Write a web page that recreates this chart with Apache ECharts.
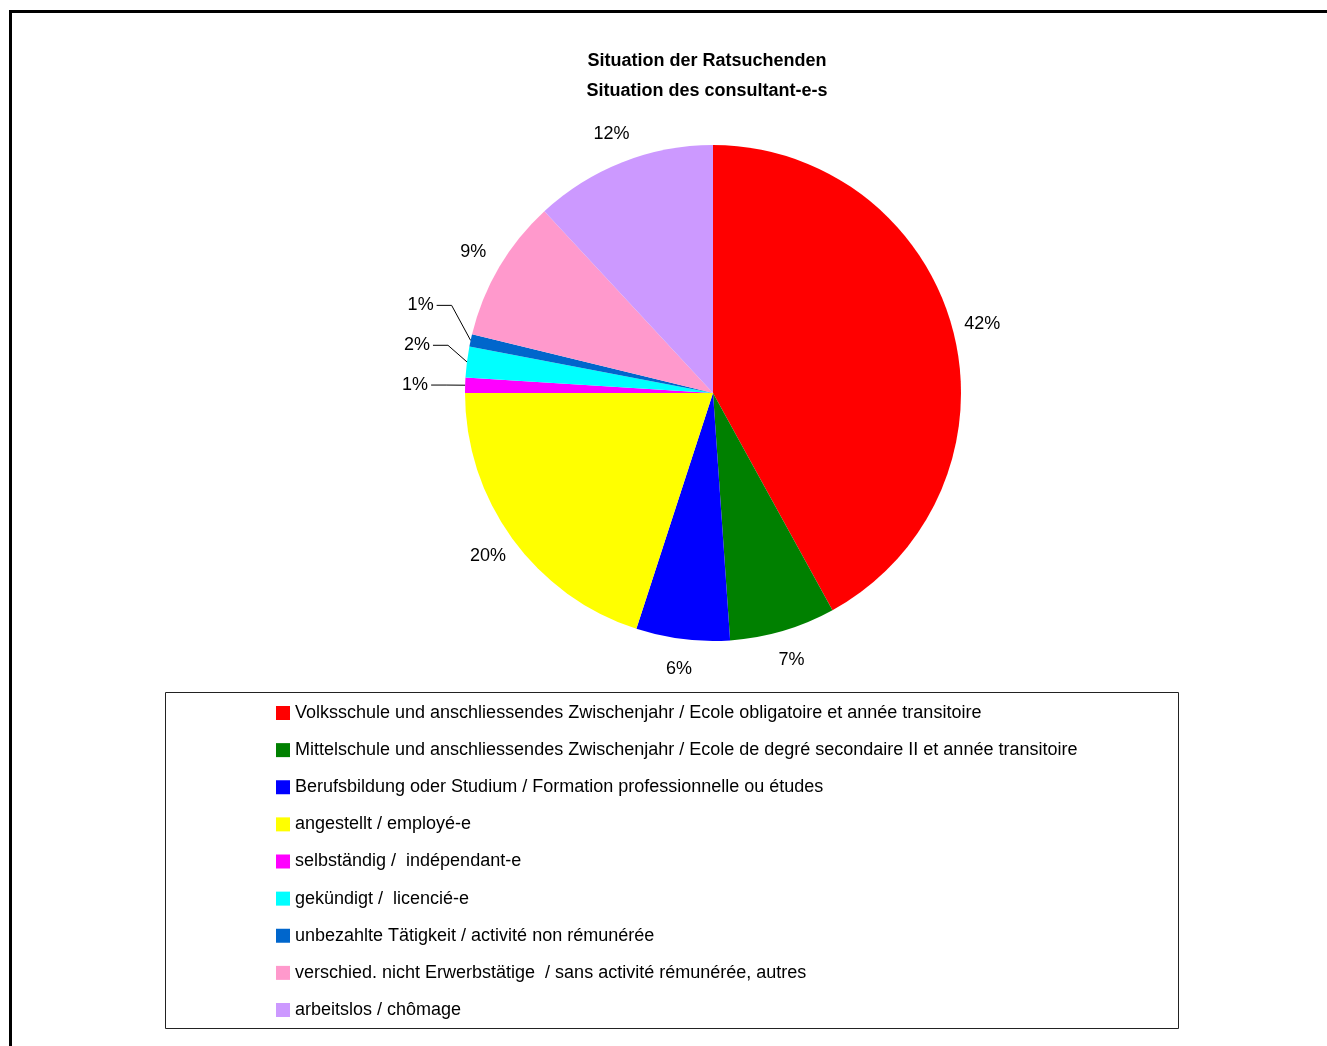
<!DOCTYPE html>
<html>
<head>
<meta charset="utf-8">
<script src="https://cdn.jsdelivr.net/npm/echarts@6/dist/echarts.min.js"></script>
<style>
html,body{margin:0;padding:0;background:#fff;}
#chart{width:1327px;height:1046px;}
</style>
</head>
<body>
<div id="chart"></div>
<script>
const titleLines = ['Situation der Ratsuchenden', 'Situation des consultant-e-s'];
const categories = [
  'Volksschule und anschliessendes Zwischenjahr / Ecole obligatoire et année transitoire',
  'Mittelschule und anschliessendes Zwischenjahr / Ecole de degré secondaire II et année transitoire',
  'Berufsbildung oder Studium / Formation professionnelle ou études',
  'angestellt / employé-e',
  'selbständig /  indépendant-e',
  'gekündigt /  licencié-e',
  'unbezahlte Tätigkeit / activité non rémunérée',
  'verschied. nicht Erwerbstätige  / sans activité rémunérée, autres',
  'arbeitslos / chômage'
];
const values = [42.0, 6.9, 6.1, 20.0, 1.0, 2.0, 0.8, 9.3, 11.9];
const colors = ['#FF0000', '#008000', '#0000FF', '#FFFF00', '#FF00FF', '#00FFFF', '#0066CC', '#FF99CC', '#CC99FF'];
// small slices whose labels sit outside with leader lines (vertical shift of label, px)
const smallLabelShift = {4: 0, 5: -16, 6: -34};

const FONT = "'Liberation Sans Narrow', 'Arial Narrow', 'Liberation Sans', Arial, sans-serif";
const chart = echarts.init(document.getElementById('chart'), null, {renderer: 'canvas'});

const pctFormatter = p => Math.round(p.percent) + '%';

const mainData = categories.map((name, i) => ({
  name: name,
  value: values[i],
  itemStyle: {color: colors[i]},
  label: {show: smallLabelShift[i] !== undefined},
  labelLine: {show: smallLabelShift[i] !== undefined}
}));
const ghostData = categories.map((name, i) => ({
  name: name,
  value: values[i],
  label: {show: smallLabelShift[i] === undefined}
}));

const option = {
  animation: false,
  backgroundColor: '#fff',
  title: {
    text: titleLines.join('\n'),
    left: 707,
    top: 46,
    textAlign: 'center',
    padding: 0,
    textStyle: {fontFamily: FONT, fontSize: 18, fontWeight: 'bold', lineHeight: 30, color: '#000'}
  },
  legend: {
    orient: 'vertical',
    left: 276,
    top: 703,
    padding: 0,
    itemGap: 17.125,
    itemWidth: 14,
    itemHeight: 14,
    icon: 'rect',
    selectedMode: false,
    data: categories.map((n, i) => ({name: n, itemStyle: {color: colors[i]}})),
    textStyle: {fontFamily: FONT, fontSize: 18, lineHeight: 20, color: '#000'}
  },
  graphic: [
    {type: 'rect', silent: true, z: -1, shape: {x: 10.5, y: 11.5, width: 1400, height: 1100},
     style: {fill: null, stroke: '#000', lineWidth: 3}},
    {type: 'rect', silent: true, z: -1, shape: {x: 165.5, y: 692.5, width: 1013, height: 336},
     style: {fill: null, stroke: '#222', lineWidth: 1}}
  ],
  series: [
    {
      type: 'pie',
      center: [713, 393],
      radius: 248,
      startAngle: 90,
      clockwise: true,
      avoidLabelOverlap: false,
      silent: true,
      data: mainData,
      itemStyle: {borderWidth: 0},
      label: {
        position: 'outside',
        formatter: pctFormatter,
        fontFamily: FONT, fontSize: 18, color: '#000',
        distanceToLabelLine: 4
      },
      labelLine: {length: 5, length2: 25, smooth: false, lineStyle: {color: '#000', width: 1}},
      labelLayout: function (params) {
        const shift = smallLabelShift[params.dataIndex];
        if (shift === undefined || !params.labelLinePoints) return {};
        const p0 = params.labelLinePoints[0];
        const p2 = params.labelLinePoints[2];
        const y = p2[1] + shift;
        const p1n = [p0[0] - 19, y];
        const p2n = [p1n[0] - 15, y];
        return {
          x: p2n[0] - 3,
          y: y,
          align: 'right',
          verticalAlign: 'middle',
          labelLinePoints: [p0, p1n, p2n]
        };
      }
    },
    {
      type: 'pie',
      center: [713, 393],
      radius: [246, 304],
      startAngle: 90,
      clockwise: true,
      avoidLabelOverlap: false,
      silent: true,
      legendHoverLink: false,
      data: ghostData,
      itemStyle: {color: 'rgba(0,0,0,0)', borderWidth: 0},
      label: {
        position: 'inside',
        formatter: pctFormatter,
        fontFamily: FONT, fontSize: 18, color: '#000'
      },
      labelLine: {show: false}
    }
  ]
};
chart.setOption(option);
</script>
</body>
</html>
